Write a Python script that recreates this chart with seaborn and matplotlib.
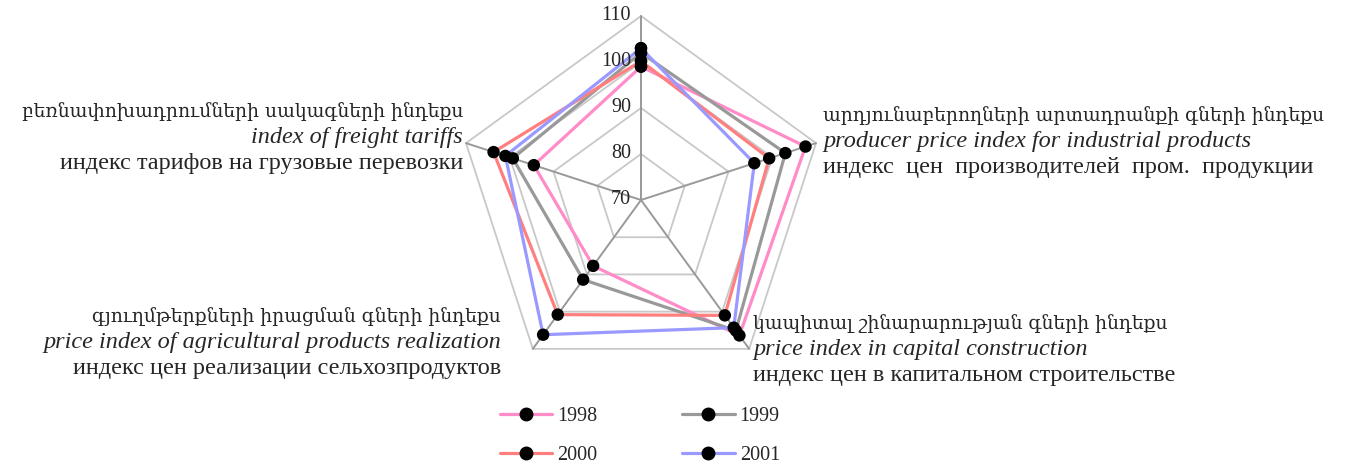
import matplotlib.pyplot as plt
import numpy as np
import pandas as pd
import seaborn as sns
from matplotlib.lines import Line2D

# Data (index values, 70..110 scale)
years = ["1998", "1999", "2000", "2001"]
values_1998 = [99.0, 107.6, 106.4, 87.7, 94.5]
values_1999 = [102.0, 103.0, 105.1, 91.4, 99.3]
values_2000 = [100.2, 99.3, 101.0, 100.8, 103.7]
values_2001 = [103.0, 95.9, 104.3, 106.2, 101.0]
ticks = [70, 80, 90, 100, 110]

# category labels (top axis has no label in the picture)
label_hy = ["",
            "արդյունաբերողների արտադրանքի գների ինդեքս",
            "կապիտալ շինարարության գների ինդեքս",
            "գյուղմթերքների իրացման գների ինդեքս",
            "բեռնափոխադրումների սակագների ինդեքս"]
label_en = ["",
            "producer price index for industrial products",
            "price index in capital construction",
            "price index of agricultural products realization",
            "index of freight tariffs"]
label_ru = ["",
            "индекс  цен  производителей  пром.  продукции",
            "индекс цен в капитальном строительстве",
            "индекс цен реализации сельхозпродуктов",
            "индекс тарифов на грузовые перевозки"]

colors = ["#FF8CC8", "#999999", "#FF7F7F", "#9999FF"]

sns.set_style("white")
plt.rcParams['font.family'] = ['Liberation Serif', 'DejaVu Serif', 'DejaVu Sans']
FS_TICK = 14.5
FS_CAT = 17.5
FS_HY = 13.5

n = len(values_1998)
thetas = np.linspace(0, 2 * np.pi, n, endpoint=False)
closed = np.append(thetas, 2 * np.pi)

rows = []
for year, vals in zip(years, [values_1998, values_1999, values_2000, values_2001]):
    vals_closed = list(vals) + [vals[0]]
    for t, v in zip(closed, vals_closed):
        rows.append({"theta": t, "value": v, "year": year})
df = pd.DataFrame(rows)

fig = plt.figure(figsize=(13.45, 4.66), dpi=100)
ax = fig.add_axes([457 / 1345, 82 / 466, 368 / 1345, 368 / 466], projection="polar")
ax.set_theta_offset(np.pi / 2)
ax.set_theta_direction(-1)
ax.set_ylim(70, 110)
ax.grid(False)
ax.set_xticks([])
ax.set_yticks([])
ax.spines["polar"].set_visible(False)
ax.patch.set_visible(False)

# polygon grid and spokes
for lev in ticks[1:]:
    ax.plot(closed, [lev] * len(closed), color="#C8C8C8", lw=1.3, zorder=1, clip_on=False)
for t in thetas:
    ax.plot([t, t], [ticks[0], ticks[-1]], color="#999999", lw=1.4, zorder=1, clip_on=False)

# series lines
sns.lineplot(data=df, x="theta", y="value", hue="year", palette=colors,
             sort=False, estimator=None, lw=2.3, ax=ax, legend=False, zorder=2)
for line in ax.lines:
    line.set_clip_on(False)

# markers on top
sns.scatterplot(data=df, x="theta", y="value", color="black", s=80,
                edgecolor="none", ax=ax, legend=False, zorder=3, clip_on=False)
ax.set_xlabel("")
ax.set_ylabel("")

# radial tick labels
for lev in ticks:
    ax.annotate(str(lev), xy=(0, lev), xytext=(-10, 0), textcoords="offset pixels",
                ha="right", va="center", fontsize=FS_TICK, zorder=4)

# category labels: ha, dx, dy of middle line (pixels)
layout = {1: ("left", 7, 2), 2: ("left", 4, -1), 3: ("right", -32, 6), 4: ("right", -3, 6)}
lh = 26
for i, (ha, dx, dy) in layout.items():
    ax.annotate(label_hy[i], xy=(thetas[i], ticks[-1]), xytext=(dx, dy + lh),
                textcoords="offset pixels", ha=ha, va="center",
                fontsize=FS_HY, family=["DejaVu Serif", "DejaVu Sans"], annotation_clip=False)
    ax.annotate(label_en[i], xy=(thetas[i], ticks[-1]), xytext=(dx, dy),
                textcoords="offset pixels", ha=ha, va="center",
                fontsize=FS_CAT, style="italic", annotation_clip=False)
    ax.annotate(label_ru[i], xy=(thetas[i], ticks[-1]), xytext=(dx, dy - lh),
                textcoords="offset pixels", ha=ha, va="center",
                fontsize=FS_CAT, annotation_clip=False)

# legend
handles = [Line2D([], [], color=c, lw=2.3, marker="o", ms=9, mfc="black", mec="black")
           for c in colors]
order = [0, 2, 1, 3]
fig.legend([handles[i] for i in order], [years[i] for i in order], ncol=2,
           loc="center", bbox_to_anchor=(640 / 1345, 0.064), frameon=False,
           fontsize=14.5, handlelength=2.6, handletextpad=0.25, columnspacing=4.2,
           labelspacing=1.0)

plt.savefig("out.png", dpi=100)
